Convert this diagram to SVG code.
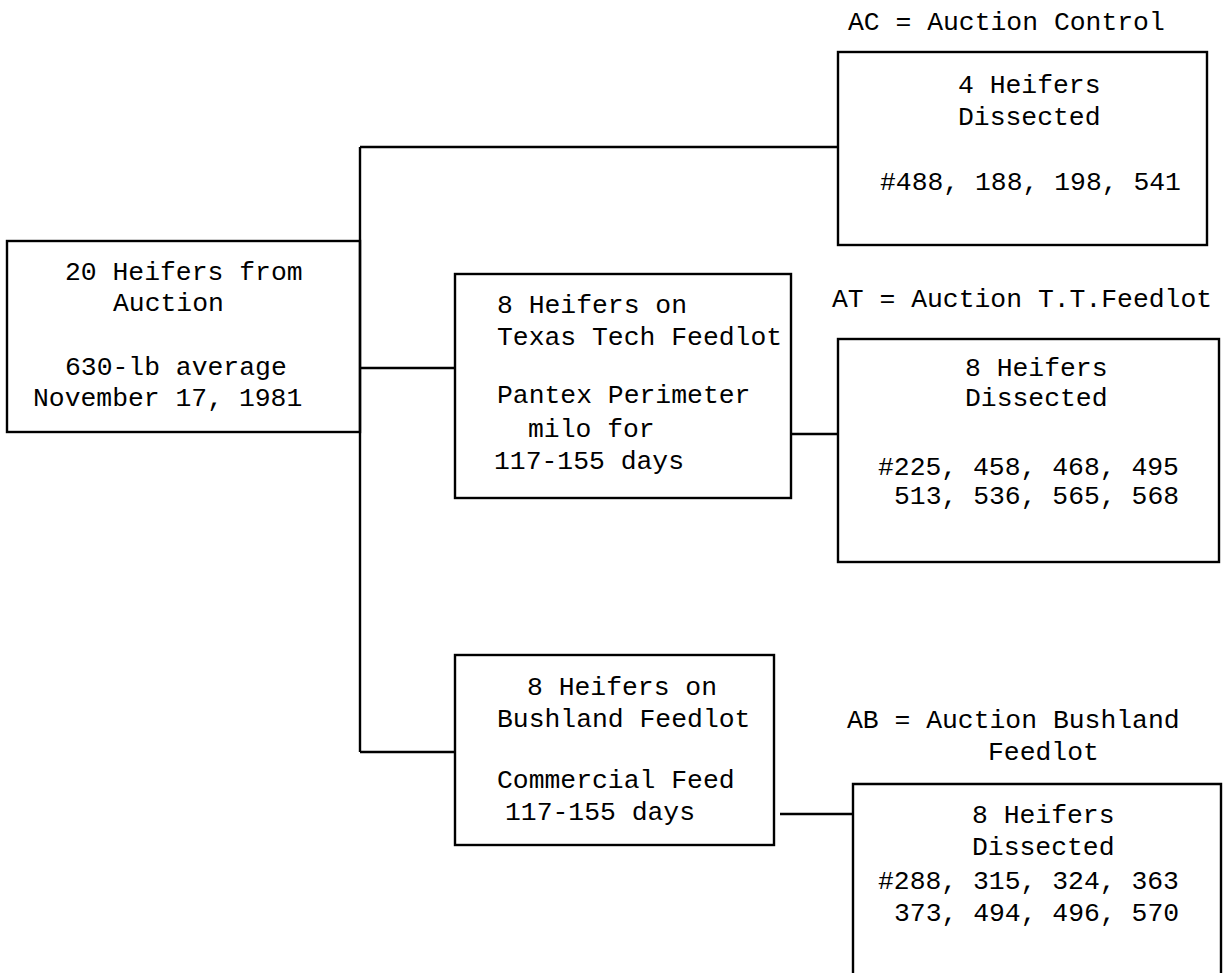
<svg xmlns="http://www.w3.org/2000/svg" width="1224" height="973" viewBox="0 0 1224 973">
  <style>
    .box { fill: none; stroke: #000; stroke-width: 2.4; }
    .conn { fill: none; stroke: #000; stroke-width: 2.4; }
    text { font-family: "Liberation Mono", "DejaVu Sans Mono", monospace; font-size: 26.4px; fill: #000; }
  </style>
  <rect width="1224" height="973" fill="#fff"/>

  <g id="connectors">
    <path class="conn" d="M360,147 V752"/>
    <path class="conn" d="M360,147 H838"/>
    <path class="conn" d="M360,368 H455"/>
    <path class="conn" d="M360,752 H455"/>
    <path class="conn" d="M791,434 H838"/>
    <path class="conn" d="M780,814 H853"/>
  </g>

  <g id="source">
    <rect class="box" x="7" y="241" width="353" height="191"/>
    <text x="65" y="280">20 Heifers from</text>
    <text x="113" y="311">Auction</text>
    <text x="65" y="375">630-lb average</text>
    <text x="33" y="406">November 17, 1981</text>
  </g>

  <g id="texas-tech">
    <rect class="box" x="455" y="274" width="336" height="224"/>
    <text x="497" y="313">8 Heifers on</text>
    <text x="497" y="345">Texas Tech Feedlot</text>
    <text x="497" y="403">Pantex Perimeter</text>
    <text x="528" y="437">milo for</text>
    <text x="494" y="469">117-155 days</text>
  </g>

  <g id="bushland">
    <rect class="box" x="455" y="655" width="319" height="190"/>
    <text x="527" y="695">8 Heifers on</text>
    <text x="497" y="727">Bushland Feedlot</text>
    <text x="497" y="788">Commercial Feed</text>
    <text x="505" y="820">117-155 days</text>
  </g>

  <g id="ac">
    <text x="848" y="30">AC = Auction Control</text>
    <rect class="box" x="838" y="52" width="369" height="193"/>
    <text x="958" y="93">4 Heifers</text>
    <text x="958" y="125">Dissected</text>
    <text x="880" y="190">#488, 188, 198, 541</text>
  </g>

  <g id="at">
    <text x="832" y="307">AT = Auction T.T.Feedlot</text>
    <rect class="box" x="838" y="339" width="381" height="223"/>
    <text x="965" y="376">8 Heifers</text>
    <text x="965" y="406">Dissected</text>
    <text x="878" y="475">#225, 458, 468, 495</text>
    <text x="894" y="504">513, 536, 565, 568</text>
  </g>

  <g id="ab">
    <text x="847" y="728">AB = Auction Bushland</text>
    <text x="988" y="760">Feedlot</text>
    <path class="box" d="M853,985 V784 H1221 V985"/>
    <text x="972" y="823">8 Heifers</text>
    <text x="972" y="855">Dissected</text>
    <text x="878" y="889">#288, 315, 324, 363</text>
    <text x="894" y="921">373, 494, 496, 570</text>
  </g>
</svg>
